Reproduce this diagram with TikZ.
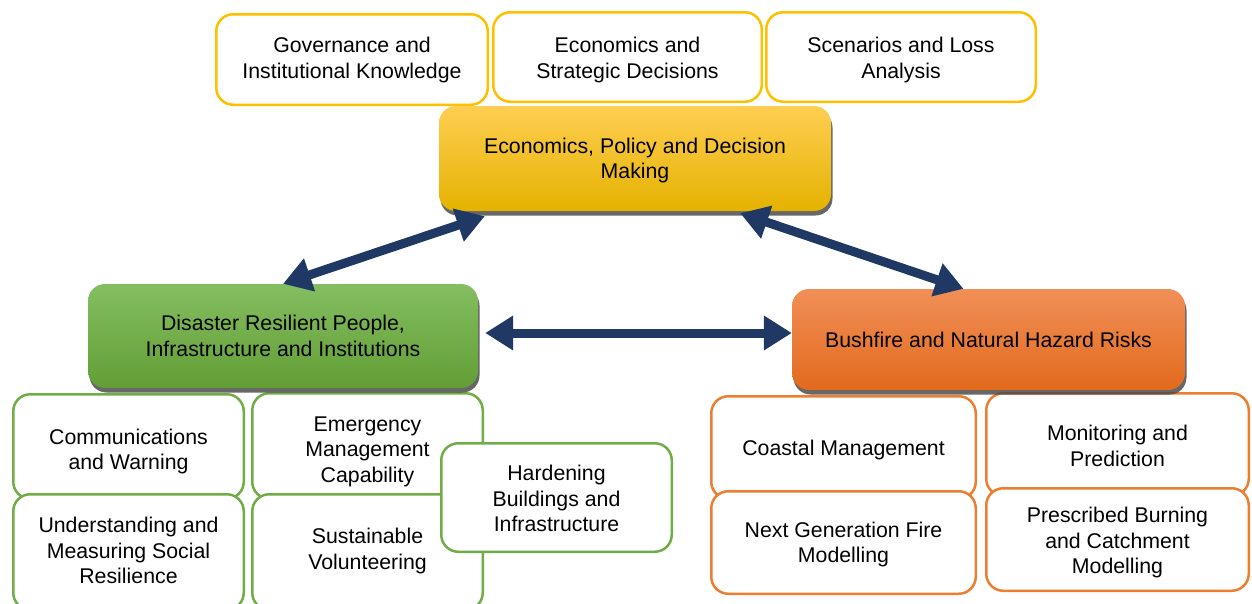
\documentclass[tikz,border=0pt]{standalone}
\usepackage{fontspec}
\setmainfont{Liberation Sans}
\usetikzlibrary{arrows.meta,shadows,calc}
\definecolor{yline}{RGB}{255,192,0}
\definecolor{gline}{RGB}{112,173,71}
\definecolor{oline}{RGB}{237,125,49}
\definecolor{ytop}{RGB}{255,206,82}
\definecolor{ymid}{RGB}{254,193,0}
\definecolor{ybot}{RGB}{228,178,0}
\definecolor{gtop}{RGB}{132,190,98}
\definecolor{gmid}{RGB}{112,173,71}
\definecolor{gbot}{RGB}{98,158,52}
\definecolor{otop}{RGB}{241,143,88}
\definecolor{omid}{RGB}{237,125,49}
\definecolor{obot}{RGB}{226,106,28}
\definecolor{navy}{RGB}{31,56,100}
\newcommand\bodyfont{\fontsize{21.3}{25.5}\selectfont}
\begin{document}
\begin{tikzpicture}[x=1pt,y=-1pt,
  subbox/.style={draw, fill=white, line width=2.5pt, rounded corners=17pt,
    align=center, inner sep=0pt, font=\bodyfont, text=black},
  ysub/.style={subbox, draw=yline},
  gsub/.style={subbox, draw=gline},
  osub/.style={subbox, draw=oline},
  mainbox/.style={rounded corners=17pt, align=center, inner sep=0pt,
    font=\bodyfont, text=black,
    drop shadow={shadow xshift=1.5pt, shadow yshift=-4.5pt, fill=black!70, opacity=0.85}},
  dn/.style n args={2}{text height=15.5pt+25.5pt*(#1-1)+2pt*#2},
  dbl/.style={draw=navy, line width=9pt,
    arrows={Triangle[width=33pt,length=28pt]-Triangle[width=33pt,length=28pt]}}
]
\clip (0,0) rectangle (1252,603);
% top subtopics
\node[ysub, dn={2}{0.5}, minimum width=271.5pt, minimum height=90.5pt] (gov) at (352,59.5) {Governance and\\Institutional Knowledge};
\node[ysub, dn={2}{3}, minimum width=268.5pt, minimum height=89.5pt] (eco) at (627.5,57) {Economics and\\Strategic Decisions};
\node[ysub, dn={2}{3}, minimum width=269.5pt, minimum height=89.5pt] (scen) at (901,57) {Scenarios and Loss\\Analysis};
% yellow main
\node[mainbox, dn={2}{2}, top color=ytop, middle color=ymid, bottom color=ybot,
  minimum width=392pt, minimum height=105pt] (yel) at (635,158.5) {Economics, Policy and Decision\\Making};
% green subtopics
\node[gsub, dn={2}{5}, minimum width=230.5pt, minimum height=104.5pt] (comm) at (128.5,446.5) {Communications\\and Warning};
\node[gsub, dn={3}{5}, minimum width=230.5pt, minimum height=105.5pt] (emerg) at (367.5,446) {Emergency\\Management\\Capability};
\node[gsub, dn={3}{-1.5}, minimum width=230.5pt, minimum height=115.5pt] (under) at (128.5,552) {Understanding and\\Measuring Social\\Resilience};
\node[gsub, dn={2}{-1}, minimum width=230.5pt, minimum height=115.5pt] (sust) at (367.5,552) {Sustainable\\Volunteering};
\node[gsub, dn={3}{1}, minimum width=230.5pt, minimum height=108.5pt] (hard) at (556.5,497.5) {Hardening\\Buildings and\\Infrastructure};
% green main
\node[mainbox, top color=gtop, middle color=gmid, bottom color=gbot,
  minimum width=390pt, minimum height=104pt] (grn) at (283,336) {Disaster Resilient People,\\Infrastructure and Institutions};
% orange subtopics
\node[osub, dn={1}{2}, minimum width=264.5pt, minimum height=102.5pt] (coast) at (843.5,447.5) {Coastal Management};
\node[osub, dn={2}{1.5}, minimum width=262.5pt, minimum height=102.5pt] (monit) at (1117.5,444.5) {Monitoring and\\Prediction};
\node[osub, dn={2}{2}, minimum width=264.5pt, minimum height=102.5pt] (next) at (843.5,542.5) {Next Generation Fire\\Modelling};
\node[osub, dn={3}{3}, minimum width=262.5pt, minimum height=102.5pt] (presc) at (1117.5,539.5) {Prescribed Burning\\and Catchment\\Modelling};
% orange main
\node[mainbox, top color=otop, middle color=omid, bottom color=obot,
  minimum width=393pt, minimum height=101pt] (org) at (988.5,339.5) {Bushfire and Natural Hazard Risks};
% connectors
\draw[dbl] ([shift={(46,5)}]yel.south west) -- (grn.north);
\draw[dbl] ([shift={(-91,2)}]yel.south east) -- ([shift={(-25,0)}]org.north);
\draw[dbl] ([shift={(7,-3)}]grn.east) -- ([shift={(0,-6.5)}]org.west);
\end{tikzpicture}
\end{document}
